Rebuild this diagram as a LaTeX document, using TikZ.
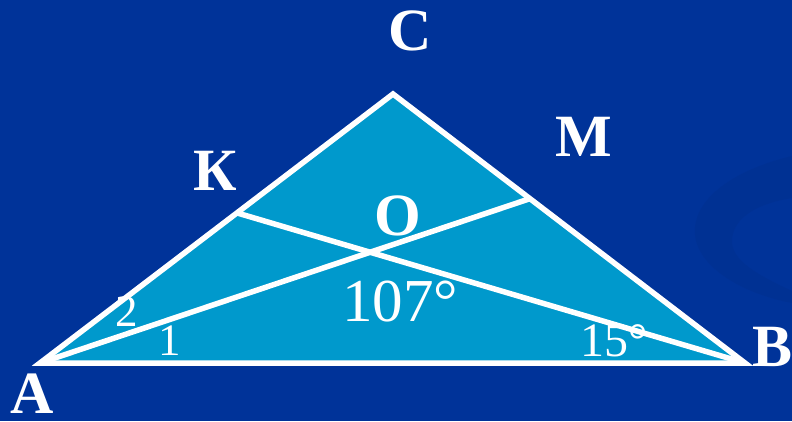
\documentclass[tikz,border=0pt]{standalone}
\usepackage{fontspec}
\setmainfont{Liberation Serif}
\usetikzlibrary{calc,intersections}
\definecolor{slideblue}{RGB}{0,51,153}
\definecolor{swooshblue}{RGB}{0,49,147}
\definecolor{triblue}{RGB}{0,153,204}
\tikzset{
  side/.style={draw=white, line width=5.5pt, line join=miter},
  vlabel/.style={text=white, inner sep=0pt, font=\bfseries\fontsize{60}{60}\selectfont},
  alabel/.style={text=white, inner sep=0pt, font=\fontsize{45}{45}\selectfont}
}
\begin{document}
\begin{tikzpicture}[x=1pt,y=1pt]
  \useasboundingbox (0,0) rectangle (792,421);
  \fill[slideblue] (0,0) rectangle (792,421);
  % faint swoosh in the background
  \fill[swooshblue] (792,265) .. controls (730,250) and (692,220) .. (695,186)
    .. controls (698,155) and (740,128) .. (792,118)
    -- (792,130) .. controls (760,145) and (730,160) .. (732,182)
    .. controls (734,205) and (760,218) .. (792,223) -- cycle;
  \coordinate (A) at (40,58);
  \coordinate (B) at (745,58);
  \coordinate (C) at (393,327);
  \coordinate (K) at ($(A)!0.558!(C)$);
  \coordinate (M) at ($(B)!0.611!(C)$);
  \fill[triblue] (A) -- (B) -- (C) -- cycle;
  \draw[side] (A) -- (B) -- (C) -- cycle;
  \draw[side, name path=am] (A) -- (M);
  \draw[side, name path=bk] (B) -- (K);
  \path[name intersections={of=am and bk, by=O}];
  \node[vlabel] (lC) at (410,390) {C};
  \node[vlabel] (lM) at (584,284) {M};
  \node[vlabel] (lK) at (215,250) {К};
  \node[vlabel] (lO) at (398,205) {O};
  \node[vlabel] (lA) at (32,27) {A};
  \node[vlabel] (lB) at (772,74) {B};
  \node[alabel, font=\fontsize{61}{61}\selectfont] (angO) at (400,119) {107°};
  \node[alabel] (ang2) at (127,109) {2};
  \node[alabel] (ang1) at (170,80) {1};
  \node[alabel, font=\fontsize{48}{48}\selectfont] (angB) at (614,80) {15°};
\end{tikzpicture}
\end{document}
